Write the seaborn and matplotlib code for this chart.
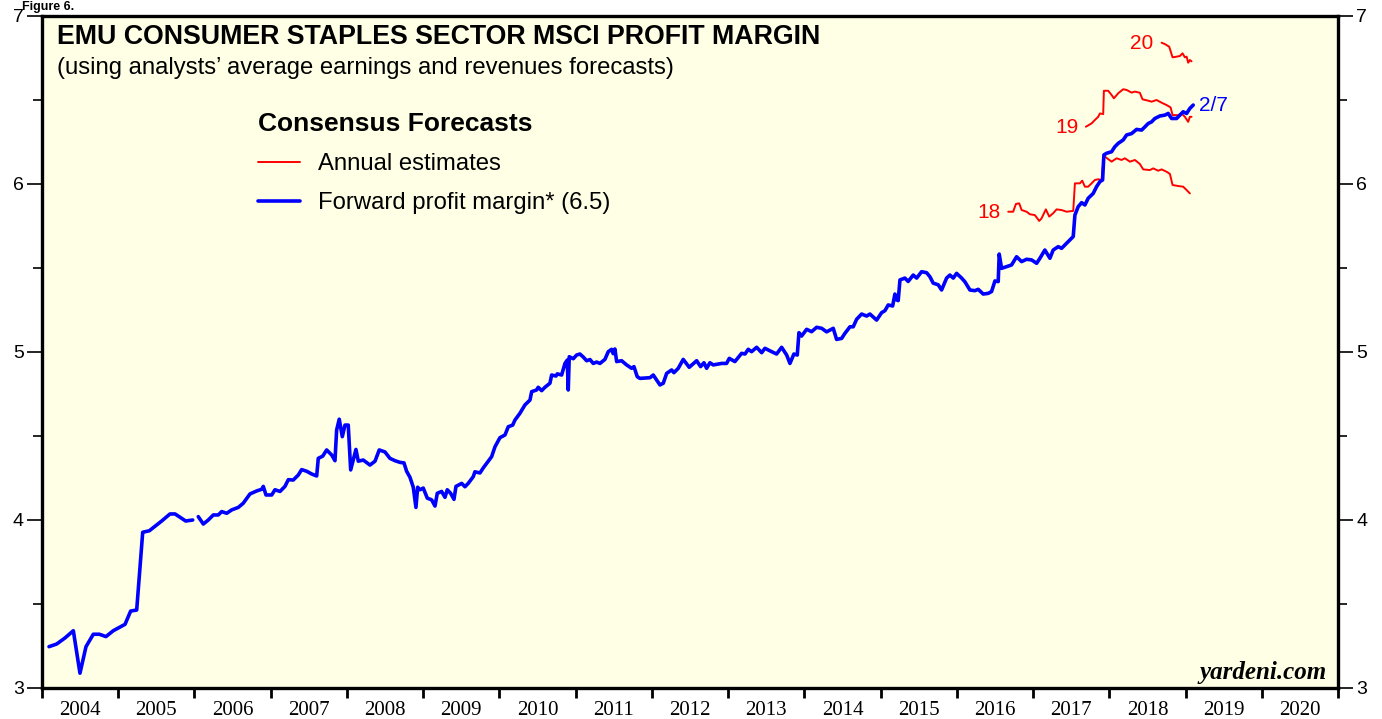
"""
EMU consumer staples sector MSCI profit margin (yardeni-style chart).
Values read off the reference picture.
"""

import matplotlib.pyplot as plt
from matplotlib.lines import Line2D
import pandas as pd
import seaborn as sns

sns.set_style('ticks')
plt.rcParams['font.family'] = ['Liberation Sans', 'DejaVu Sans']
plt.rcParams['text.color'] = 'black'
plt.rcParams['xtick.color'] = 'black'
plt.rcParams['ytick.color'] = 'black'
plt.rcParams['axes.labelcolor'] = 'black'

BG = '#FFFFE6'
BLUE = '#0000FF'
RED = '#FF0000'

# forward profit margin, 2004-2005 (before gap)
fwd_a_year = [2004.092, 2004.193, 2004.302, 2004.411, 2004.498, 2004.577, 2004.673,
              2004.752, 2004.839, 2004.935, 2005.089, 2005.163, 2005.242, 2005.321,
              2005.408, 2005.570, 2005.679, 2005.745, 2005.885, 2005.977]
fwd_a_val = [3.246, 3.262, 3.298, 3.341, 3.088, 3.246, 3.320,
             3.320, 3.306, 3.341, 3.379, 3.458, 3.464, 3.927,
             3.936, 3.994, 4.036, 4.036, 3.994, 4.000]

# forward profit margin, 2006 onwards
fwd_b_year = [
    2006.050, 2006.116, 2006.181, 2006.247, 2006.312, 2006.357, 2006.423, 2006.488,
    2006.575, 2006.640, 2006.728, 2006.816, 2006.882, 2006.903, 2006.938, 2007.013,
    2007.056, 2007.122, 2007.187, 2007.231, 2007.296, 2007.362, 2007.406, 2007.472,
    2007.537, 2007.603, 2007.624, 2007.682, 2007.734, 2007.800, 2007.843, 2007.865,
    2007.899, 2007.939, 2007.974, 2008.017, 2008.049, 2008.083, 2008.118, 2008.149,
    2008.214, 2008.302, 2008.368, 2008.424, 2008.499, 2008.564, 2008.630, 2008.696,
    2008.748, 2008.783, 2008.827, 2008.870, 2008.905, 2008.928, 2008.958, 2009.001,
    2009.054, 2009.111, 2009.155, 2009.185, 2009.242, 2009.286, 2009.316, 2009.360,
    2009.404, 2009.430, 2009.505, 2009.548, 2009.591, 2009.657, 2009.679, 2009.745,
    2009.788, 2009.833, 2009.898, 2009.942, 2010.007, 2010.073, 2010.116, 2010.174,
    2010.204, 2010.269, 2010.335, 2010.401, 2010.423, 2010.488, 2010.509, 2010.554,
    2010.597, 2010.663, 2010.685, 2010.742, 2010.759, 2010.816, 2010.860, 2010.890,
    2010.903, 2010.916, 2010.969, 2011.013, 2011.056, 2011.100, 2011.144, 2011.188,
    2011.231, 2011.275, 2011.319, 2011.384, 2011.428, 2011.472, 2011.493, 2011.515,
    2011.538, 2011.603, 2011.669, 2011.734, 2011.765, 2011.808, 2011.843, 2011.975,
    2012.018, 2012.062, 2012.106, 2012.149, 2012.194, 2012.259, 2012.289, 2012.346,
    2012.411, 2012.490, 2012.587, 2012.639, 2012.683, 2012.718, 2012.761, 2012.805,
    2012.915, 2012.980, 2013.015, 2013.089, 2013.177, 2013.221, 2013.264, 2013.308,
    2013.374, 2013.440, 2013.483, 2013.571, 2013.636, 2013.702, 2013.768, 2013.811,
    2013.863, 2013.907, 2013.929, 2013.964, 2014.030, 2014.095, 2014.161, 2014.227,
    2014.292, 2014.379, 2014.423, 2014.489, 2014.532, 2014.598, 2014.641, 2014.686,
    2014.751, 2014.817, 2014.860, 2014.948, 2015.013, 2015.057, 2015.100, 2015.158,
    2015.188, 2015.210, 2015.231, 2015.254, 2015.319, 2015.362, 2015.428, 2015.473,
    2015.538, 2015.604, 2015.647, 2015.690, 2015.756, 2015.800, 2015.866, 2015.909,
    2015.953, 2015.997, 2016.063, 2016.106, 2016.172, 2016.237, 2016.281, 2016.346,
    2016.412, 2016.456, 2016.500, 2016.543, 2016.556, 2016.587, 2016.653, 2016.718,
    2016.784, 2016.850, 2016.915, 2016.981, 2017.047, 2017.090, 2017.155, 2017.221,
    2017.264, 2017.330, 2017.374, 2017.440, 2017.505, 2017.527, 2017.549, 2017.592,
    2017.637, 2017.680, 2017.723, 2017.789, 2017.833, 2017.877, 2017.912, 2017.929,
    2017.965, 2018.030, 2018.073, 2018.117, 2018.182, 2018.227, 2018.292, 2018.358,
    2018.424, 2018.467, 2018.510, 2018.555, 2018.598, 2018.664, 2018.729, 2018.773,
    2018.817, 2018.883, 2018.926, 2018.969, 2019.014, 2019.057, 2019.101,
]
fwd_b_val = [
    4.020, 3.976, 4.000, 4.030, 4.030, 4.050, 4.040, 4.060,
    4.075, 4.100, 4.155, 4.173, 4.183, 4.200, 4.149, 4.149,
    4.180, 4.170, 4.200, 4.240, 4.238, 4.268, 4.300, 4.290,
    4.274, 4.262, 4.367, 4.380, 4.417, 4.387, 4.353, 4.536,
    4.600, 4.496, 4.565, 4.565, 4.298, 4.357, 4.420, 4.350,
    4.357, 4.327, 4.350, 4.417, 4.405, 4.367, 4.353, 4.343,
    4.340, 4.290, 4.254, 4.195, 4.075, 4.195, 4.180, 4.190,
    4.130, 4.120, 4.083, 4.159, 4.170, 4.135, 4.180, 4.159,
    4.123, 4.200, 4.218, 4.198, 4.218, 4.258, 4.287, 4.280,
    4.310, 4.337, 4.377, 4.436, 4.490, 4.506, 4.555, 4.565,
    4.595, 4.635, 4.685, 4.714, 4.764, 4.774, 4.790, 4.770,
    4.790, 4.814, 4.863, 4.857, 4.870, 4.863, 4.932, 4.952,
    4.774, 4.972, 4.960, 4.982, 4.988, 4.970, 4.948, 4.955,
    4.932, 4.940, 4.932, 4.956, 5.002, 5.016, 4.990, 5.018,
    4.943, 4.948, 4.923, 4.903, 4.913, 4.853, 4.843, 4.847,
    4.863, 4.833, 4.804, 4.814, 4.873, 4.893, 4.877, 4.903,
    4.956, 4.909, 4.948, 4.913, 4.936, 4.903, 4.936, 4.923,
    4.932, 4.932, 4.962, 4.943, 4.992, 4.988, 5.016, 5.002,
    5.028, 4.996, 5.022, 5.002, 4.988, 5.028, 4.982, 4.932,
    4.988, 4.982, 5.115, 5.095, 5.135, 5.121, 5.147, 5.141,
    5.120, 5.141, 5.075, 5.081, 5.111, 5.150, 5.150, 5.195,
    5.226, 5.214, 5.226, 5.190, 5.234, 5.246, 5.280, 5.274,
    5.345, 5.310, 5.306, 5.429, 5.440, 5.420, 5.458, 5.440,
    5.478, 5.472, 5.448, 5.410, 5.400, 5.369, 5.440, 5.458,
    5.440, 5.468, 5.440, 5.418, 5.369, 5.365, 5.373, 5.345,
    5.349, 5.360, 5.423, 5.419, 5.583, 5.498, 5.508, 5.518,
    5.567, 5.538, 5.552, 5.548, 5.528, 5.558, 5.607, 5.558,
    5.607, 5.627, 5.617, 5.647, 5.677, 5.687, 5.815, 5.865,
    5.889, 5.875, 5.915, 5.944, 5.984, 6.014, 6.024, 6.173,
    6.183, 6.192, 6.222, 6.242, 6.262, 6.292, 6.300, 6.325,
    6.321, 6.340, 6.360, 6.370, 6.390, 6.405, 6.410, 6.420,
    6.390, 6.390, 6.410, 6.430, 6.420, 6.450, 6.470,
]

# annual estimates
est18_year = [2016.674, 2016.739, 2016.775, 2016.818, 2016.850, 2016.915, 2016.958,
              2017.024, 2017.081, 2017.112, 2017.168, 2017.212, 2017.264, 2017.309,
              2017.374, 2017.440, 2017.527, 2017.549, 2017.615, 2017.645, 2017.680,
              2017.723, 2017.768, 2017.811, 2017.854, 2017.899, 2017.929, 2017.942,
              2018.030, 2018.096, 2018.161, 2018.205, 2018.270, 2018.336, 2018.401,
              2018.445, 2018.532, 2018.576, 2018.641, 2018.686, 2018.751, 2018.795,
              2018.830, 2018.903, 2018.969, 2019.014, 2019.057]
est18_val = [5.835, 5.835, 5.881, 5.885, 5.845, 5.835, 5.820,
             5.815, 5.780, 5.796, 5.849, 5.806, 5.826, 5.849,
             5.845, 5.835, 5.840, 6.004, 6.004, 6.020, 5.984,
             5.984, 6.004, 6.024, 6.028, 6.024, 6.173, 6.163,
             6.133, 6.153, 6.143, 6.153, 6.133, 6.143, 6.119,
             6.087, 6.083, 6.093, 6.079, 6.087, 6.073, 6.060,
             5.994, 5.988, 5.984, 5.964, 5.944]

est19_year = [2017.693, 2017.768, 2017.811, 2017.854, 2017.877, 2017.920, 2017.929,
              2017.985, 2018.030, 2018.060, 2018.117, 2018.182, 2018.227, 2018.292,
              2018.336, 2018.401, 2018.436, 2018.510, 2018.555, 2018.620, 2018.686,
              2018.751, 2018.804, 2018.830, 2018.903, 2018.948, 2018.991, 2019.035,
              2019.057, 2019.079]
est19_val = [6.341, 6.361, 6.381, 6.400, 6.420, 6.416, 6.555,
             6.555, 6.530, 6.510, 6.540, 6.564, 6.560, 6.544,
             6.550, 6.543, 6.504, 6.496, 6.490, 6.500, 6.484,
             6.470, 6.456, 6.410, 6.410, 6.420, 6.400, 6.370,
             6.400, 6.400]

est20_year = [2018.686, 2018.729, 2018.786, 2018.830, 2018.883, 2018.926, 2018.961,
              2018.991, 2019.014, 2019.035, 2019.057, 2019.079]
est20_val = [6.841, 6.833, 6.817, 6.754, 6.758, 6.762, 6.778,
             6.754, 6.758, 6.722, 6.738, 6.730]

# series labels (end of label, value)
tag_text = ['18', '19', '20']
tag_year = [2016.574, 2017.592, 2018.576]
tag_val = [5.829, 6.339, 6.837]

years = list(range(2004, 2021))


def line(ax, xs, ys, color, lw):
    df = pd.DataFrame({'year': xs, 'margin': ys})
    sns.lineplot(data=df, x='year', y='margin', color=color, linewidth=lw,
                 estimator=None, sort=False, ax=ax)


fig = plt.figure(figsize=(13.82, 7.19), dpi=100)
ax = fig.add_axes([42 / 1382, 1 - 688 / 719, 1296 / 1382, 672 / 719])
ax.set_facecolor(BG)

line(ax, est18_year, est18_val, RED, 1.4)
line(ax, est19_year, est19_val, RED, 1.4)
line(ax, est20_year, est20_val, RED, 1.4)
line(ax, fwd_a_year, fwd_a_val, BLUE, 2.6)
line(ax, fwd_b_year, fwd_b_val, BLUE, 2.6)

for t, x, y in zip(tag_text, tag_year, tag_val):
    ax.text(x, y, t, color=RED, fontsize=15, ha='right', va='center')
ax.text(2019.175, 6.47, '2/7', color=BLUE, fontsize=15, ha='left', va='center')

ax.set_xlim(2004, 2021)
ax.set_ylim(3, 7)
ax.set_xlabel('')
ax.set_ylabel('')

# year boundaries as ticks, year labels centred between them
ax.set_xticks(range(2004, 2022))
ax.set_xticklabels([])
ax.set_xticks([y + 0.5 for y in years], [str(y) for y in years], minor=True,
              fontsize=15, fontfamily='Liberation Serif')
ax.tick_params(axis='x', which='major', direction='out', length=7.5, width=2, color='black')
ax.tick_params(axis='x', which='minor', length=0, pad=9.5)

ax.set_yticks([3, 4, 5, 6, 7])
ax.set_yticks([3.5, 4.5, 5.5, 6.5], minor=True)
ax.tick_params(axis='y', which='both', left=True, right=True, labelleft=True,
               labelright=True, direction='out', width=1.2, color='black')
ax.tick_params(axis='y', which='major', length=11, pad=2, labelsize=14)
ax.tick_params(axis='y', which='minor', length=6.5)

for sp in ax.spines.values():
    sp.set_visible(True)
    sp.set_linewidth(2.4)
    sp.set_color('black')

ax.text(0.0116, 0.9688, 'EMU CONSUMER STAPLES SECTOR MSCI PROFIT MARGIN',
        transform=ax.transAxes, fontsize=19.3, fontweight='bold', va='center')
ax.text(0.0116, 0.9226, '(using analysts\u2019 average earnings and revenues forecasts)',
        transform=ax.transAxes, fontsize=17.2, va='center')

handles = [Line2D([], [], color=RED, linewidth=1.4),
           Line2D([], [], color=BLUE, linewidth=2.6)]
leg = ax.legend(handles, ['Annual estimates', 'Forward profit margin* (6.5)'],
                title='Consensus Forecasts', loc='upper left',
                bbox_to_anchor=(0.1667, 0.857), frameon=False, fontsize=17.2,
                title_fontproperties={'weight': 'bold', 'size': 19},
                alignment='left', borderpad=0, borderaxespad=0,
                handlelength=1.75, handletextpad=0.75, labelspacing=0.72)
for txt in leg.get_texts():
    txt.set_color('black')
leg.get_title().set_color('black')

ax.text(0.9915, 0.0134, 'yardeni.com', transform=ax.transAxes, ha='right',
        va='baseline', fontsize=18, fontweight='bold', fontstyle='italic',
        fontfamily='Liberation Serif')

fig.text(0.016, 1 - 1 / 719, 'Figure 6.', fontsize=9, fontweight='bold', va='top')

fig.savefig('out.png', dpi=100, facecolor='white')
